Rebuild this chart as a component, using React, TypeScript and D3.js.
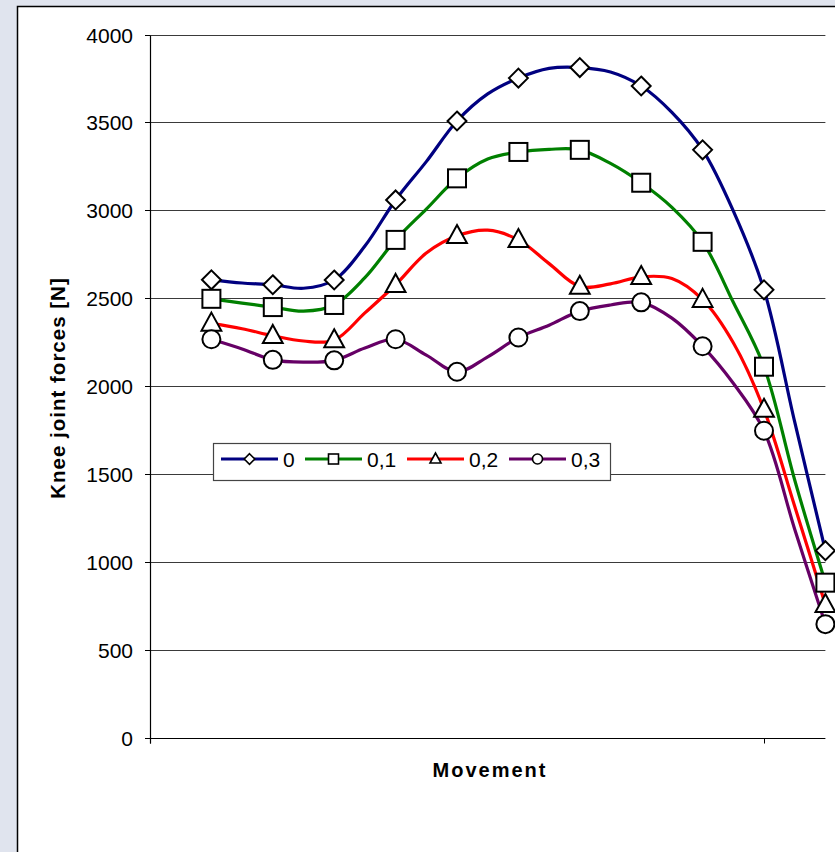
import React from "react";
import * as d3 from "d3";

// Positions along the movement axis (half steps; markers at whole steps)
const steps = [1, 1.5, 2, 2.5, 3, 3.5, 4, 4.5, 5, 5.5, 6, 6.5, 7, 7.5, 8, 8.5, 9, 9.5, 10, 10.5, 11];
const seriesNames = ["0", "0,1", "0,2", "0,3"];
const s0 = [2608, 2590, 2580, 2560, 2607, 2800, 3062, 3280, 3511, 3665, 3755, 3810, 3815, 3790, 3710, 3560, 3347, 3000, 2551, 1800, 1068];
const s1 = [2500, 2475, 2453, 2430, 2465, 2620, 2835, 3010, 3185, 3295, 3335, 3350, 3347, 3270, 3160, 3020, 2824, 2480, 2114, 1470, 886];
const s2 = [2360, 2330, 2290, 2260, 2265, 2420, 2580, 2760, 2858, 2890, 2835, 2700, 2570, 2585, 2625, 2615, 2495, 2250, 1870, 1320, 760];
const s3 = [2270, 2215, 2153, 2140, 2150, 2220, 2270, 2180, 2085, 2170, 2280, 2350, 2430, 2465, 2480, 2390, 2230, 2020, 1750, 1190, 650];
const yTicks = [0, 500, 1000, 1500, 2000, 2500, 3000, 3500, 4000];
const xTicks = [0, 10];

const colors = ["#000080", "#008000", "#ff0000", "#660066"];
const shapes = ["diamond", "square", "triangle", "circle"];

function Marker({ shape, x, y, s }: { shape: string; x: number; y: number; s: number }) {
  const common = { fill: "#fff", stroke: "#000", strokeWidth: s > 6 ? 2 : 1.6 };
  if (shape === "diamond") {
    const r = s * 1.05;
    return <path d={`M${x},${y - r}L${x + r},${y}L${x},${y + r}L${x - r},${y}Z`} {...common} />;
  }
  if (shape === "square") {
    return <rect x={x - s} y={y - s} width={2 * s} height={2 * s} {...common} />;
  }
  if (shape === "triangle") {
    const h = s * 2;
    return <path d={`M${x},${y - h * 0.6}L${x + s * 1.1},${y + h * 0.4}L${x - s * 1.1},${y + h * 0.4}Z`} {...common} />;
  }
  return <circle cx={x} cy={y} r={s} {...common} />;
}

export default function App() {
  const W = 835, H = 852;
  const x = d3.scaleLinear().domain([0, 11]).range([150, 825.4]);
  const y = d3.scaleLinear().domain([0, 4000]).range([738.5, 35]);
  const crisp = (v: number) => Math.round(v - 0.5) + 0.5;
  const all = [s0, s1, s2, s3];
  const line = d3
    .line<number>()
    .x((_, i) => x(steps[i]))
    .y((d) => y(d))
    .curve(d3.curveCatmullRom.alpha(0.5));
  const font = "'Liberation Sans', Arial, Helvetica, sans-serif";

  const legendItems = [
    { lx: 221, tx: 283 },
    { lx: 305, tx: 367 },
    { lx: 407, tx: 469 },
    { lx: 509, tx: 571 },
  ];

  return (
    <svg width={W} height={H} style={{ position: "absolute", left: 0, top: 0 }} fontFamily={font}>
      <rect x={0} y={0} width={W} height={H} fill="#e0e4ee" />
      <rect x={17.5} y={6.5} width={W + 20} height={H + 20} fill="#fff" stroke="#000" strokeWidth={1.5} />
      {/* gridlines */}
      {yTicks.filter((t) => t > 0).map((t) => (
        <line key={t} x1={150} x2={825.4} y1={crisp(y(t))} y2={crisp(y(t))} stroke="#3a3a3a" strokeWidth={1} />
      ))}
      {/* axes */}
      <line x1={150.5} x2={150.5} y1={crisp(y(4000))} y2={crisp(y(0)) + 5} stroke="#000" strokeWidth={1.2} />
      <line x1={145} x2={825.4} y1={crisp(y(0))} y2={crisp(y(0))} stroke="#000" strokeWidth={1.2} />
      {yTicks.map((t) => (
        <g key={t}>
          <line x1={145} x2={150} y1={crisp(y(t))} y2={crisp(y(t))} stroke="#000" strokeWidth={1} />
          <text x={133} y={y(t)} dy="0.36em" textAnchor="end" fontSize={21} fill="#000">
            {t}
          </text>
        </g>
      ))}
      {xTicks.map((t) => (
        <line key={t} x1={crisp(x(t))} x2={crisp(x(t))} y1={crisp(y(0))} y2={crisp(y(0)) + 5} stroke="#000" strokeWidth={1} />
      ))}
      {/* series */}
      {all.map((s, si) => (
        <path key={si} d={line(s) || ""} fill="none" stroke={colors[si]} strokeWidth={3.2} strokeLinejoin="round" />
      ))}
      {all.map((s, si) =>
        s.map((v, i) =>
          i % 2 === 0 ? <Marker key={`${si}-${i}`} shape={shapes[si]} x={x(steps[i])} y={y(v)} s={9} /> : null
        )
      )}
      {/* axis titles */}
      <text
        transform="translate(65,388) rotate(-90)"
        textAnchor="middle"
        fontSize={20.5}
        fontWeight="bold"
        letterSpacing={1}
      >
        Knee joint forces [N]
      </text>
      <text x={490} y={777} textAnchor="middle" fontSize={20} fontWeight="bold" letterSpacing={2}>
        Movement
      </text>
      {/* legend */}
      <rect x={213.5} y={443.5} width={397} height={37} fill="#fff" stroke="#444" strokeWidth={1.2} />
      {legendItems.map((it, i) => (
        <g key={i}>
          <line x1={it.lx} x2={it.lx + 57} y1={459} y2={459} stroke={colors[i]} strokeWidth={3.2} />
          <Marker shape={shapes[i]} x={it.lx + 28.5} y={459} s={5} />
          <text x={it.tx} y={459} dy="0.36em" fontSize={21}>
            {seriesNames[i]}
          </text>
        </g>
      ))}
    </svg>
  );
}
